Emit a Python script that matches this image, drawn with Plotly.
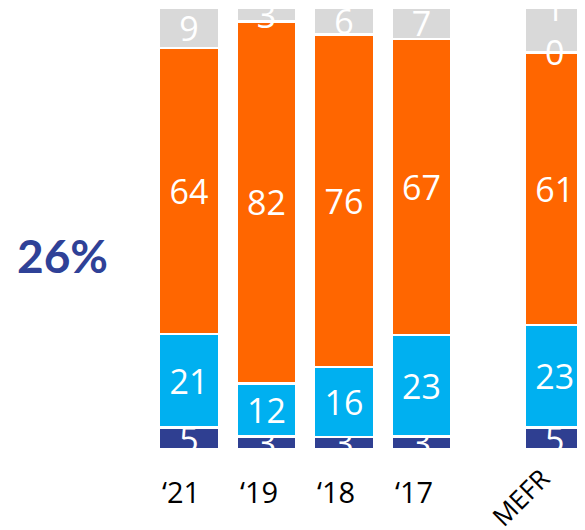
import plotly.graph_objects as go

cats = ["‘21", "‘19", "‘18", "‘17", "MEFR"]
xpos = [0, 1, 2, 3, 4.72]
dark = [5, 3, 3, 3, 5]
light = [21, 12, 16, 23, 23]
orange = [64, 82, 76, 67, 61]
grey = [9, 3, 6, 7, 10]
headline = "26%"

series = [
    (dark, "#2F3F91"),
    (light, "#00B0F0"),
    (orange, "#FF6600"),
    (grey, "#D9D9D9"),
]

fig = go.Figure()
for vals, col in series:
    txt = [str(v) for v in vals]
    if vals is grey:
        # label in the clipped MEFR bar wraps onto two lines
        txt[-1] = "<br>".join(txt[-1])
    fig.add_trace(go.Bar(
        x=xpos, y=vals, text=txt, width=0.77,
        marker=dict(color=col, line=dict(color="white", width=2.5)),
        textposition="inside", insidetextanchor="middle", textangle=0,
        textfont=dict(family="Open Sans", size=34, color="white"),
        cliponaxis=True, showlegend=False, hoverinfo="skip",
    ))

# category labels under the bars, left aligned with each bar
for i, c in enumerate(cats[:-1]):
    fig.add_annotation(x=xpos[i] - 0.37, y=-0.098, xref="x", yref="paper",
                       text=c, showarrow=False, xanchor="left", yanchor="middle",
                       font=dict(family="Open Sans", size=29, color="black"))
fig.add_annotation(x=4.28, y=-0.112, xref="x", yref="paper", text=cats[-1],
                   showarrow=False, textangle=-45, xanchor="center", yanchor="middle",
                   font=dict(family="Open Sans", size=26, color="black"))

fig.add_annotation(x=0.0936, y=0.4386, xref="paper", yref="paper",
                   text="<b>" + headline + "</b>",
                   showarrow=False, font=dict(family="Lato", size=46, color="#2F4197"),
                   xanchor="center", yanchor="middle")

fig.update_layout(
    barmode="stack", barnorm="percent",
    width=577, height=522,
    margin=dict(l=0, r=0, t=0, b=82),
    plot_bgcolor="white", paper_bgcolor="white",
    uniformtext=dict(minsize=34, mode="show"),
    xaxis=dict(range=[-2.335, 5.11], visible=False),
    yaxis=dict(range=[0.45, 100], visible=False),
)

fig.write_html("out.html")
